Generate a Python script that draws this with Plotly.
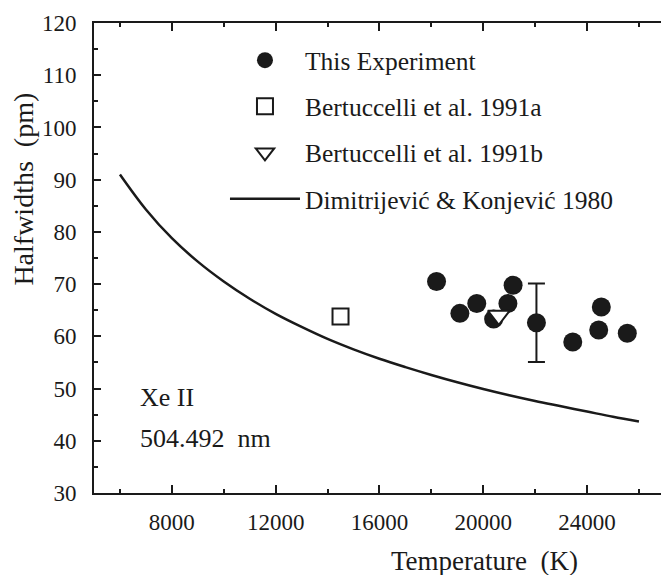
import plotly.graph_objects as go

# Measured Xe II 504.492 nm halfwidths (this experiment)
temp_exp = [18200, 19100, 19750, 20400, 20950, 21150, 22050, 23450, 24450, 24550, 25550]
hw_exp = [70.5, 64.4, 66.3, 63.3, 66.3, 69.8, 62.6, 58.9, 61.2, 65.6, 60.6]
hw_exp_err = [None, None, None, None, None, None, 7.5, None, None, None, None]

# Bertuccelli et al. 1991a / 1991b
temp_b91a = [14500]
hw_b91a = [63.8]
temp_b91b = [20600]
hw_b91b = [64.0]

# Dimitrijevic & Konjevic 1980 calculation
temp_theory = [6000, 7000, 8000, 9000, 10000, 11000, 12000, 13000, 14000, 15000, 16000,
               17000, 18000, 19000, 20000, 21000, 22000, 23000, 24000, 25000, 26000]
hw_theory = [91.0, 84.3, 78.8, 74.3, 70.5, 67.2, 64.3, 61.8, 59.5, 57.5, 55.7,
             54.1, 52.6, 51.2, 49.9, 48.7, 47.6, 46.6, 45.6, 44.6, 43.7]

x_ticks_major = 4000
x_ticks_minor = 2000
y_ticks_major = 10
y_ticks_minor = 5

FONT = "Liberation Serif"
INK = "#1a1a1a"

fig = go.Figure()

fig.add_trace(go.Scatter(
    x=temp_exp, y=hw_exp, mode="markers", name="This Experiment",
    legendgroup="exp",
    marker=dict(symbol="circle", size=19, color=INK, line=dict(width=0)),
    error_y=dict(type="data", array=hw_exp_err, visible=True, color=INK,
                 thickness=2, width=8.5),
))
fig.add_trace(go.Scatter(
    x=temp_b91a, y=hw_b91a, mode="markers", name="Bertuccelli et al. 1991a",
    legendgroup="b91a",
    marker=dict(symbol="square", size=16, color="white", line=dict(width=2, color=INK)),
))
fig.add_trace(go.Scatter(
    x=temp_b91b, y=hw_b91b, mode="markers", name="Bertuccelli et al. 1991b",
    legendgroup="b91b",
    marker=dict(symbol="triangle-down", size=19, color="white", line=dict(width=2, color=INK)),
))
fig.add_trace(go.Scatter(
    x=temp_theory, y=hw_theory, mode="lines", name="Dimitrijević & Konjević 1980",
    legendgroup="dk80",
    line=dict(color=INK, width=2.5, shape="spline"),
))

axis_common = dict(
    showgrid=False, zeroline=False, showline=True, linewidth=2, linecolor=INK,
    ticks="inside", tickwidth=2, tickcolor=INK,
    tickfont=dict(family=FONT, size=23, color=INK),
)

fig.update_layout(
    width=661, height=575,
    margin=dict(l=94, r=0, t=23, b=82),
    paper_bgcolor="white", plot_bgcolor="white",
    font=dict(family=FONT, size=23, color=INK),
    showlegend=True,
    legend=dict(
        x=0.231, y=0.97, xanchor="left", yanchor="top",
        bgcolor="rgba(0,0,0,0)", borderwidth=0,
        font=dict(family=FONT, size=25.5, color=INK),
        itemwidth=70, traceorder="grouped", tracegroupgap=10,
    ),
    xaxis=dict(
        range=[5000, 26850], tick0=0, dtick=x_ticks_major, ticklen=8,
        tickformat="d", mirror="ticks", ticklabelstandoff=7,
        minor=dict(tick0=0, dtick=x_ticks_minor, ticks="inside", ticklen=4,
                   tickwidth=2, tickcolor=INK, showgrid=False),
        **axis_common,
    ),
    yaxis=dict(
        range=[30, 120], tick0=0, dtick=y_ticks_major, ticklen=7,
        mirror=False, ticklabelstandoff=11,
        minor=dict(tick0=0, dtick=y_ticks_minor, ticks="inside", ticklen=4,
                   tickwidth=2, tickcolor=INK, showgrid=False),
        **axis_common,
    ),
    yaxis2=dict(
        overlaying="y", side="right", anchor="x", range=[30, 120],
        tick0=0, dtick=y_ticks_major, ticks="inside", ticklen=6, tickwidth=2,
        tickcolor=INK, showline=False, showgrid=False, zeroline=False,
        showticklabels=False,
        minor=dict(tick0=0, dtick=y_ticks_minor, ticks="inside", ticklen=3,
                   tickwidth=1, tickcolor="#bbbbbb", showgrid=False),
    ),
    annotations=[
        dict(text="Temperature\u00a0 (K)", xref="paper", yref="paper",
             x=0.688, y=-0.145, xanchor="center", yanchor="middle",
             showarrow=False, font=dict(family=FONT, size=27, color=INK)),
        dict(text="Halfwidths\u00a0 (pm)", xref="paper", yref="paper",
             x=-0.124, y=0.647, xanchor="center", yanchor="middle", textangle=-90,
             showarrow=False, font=dict(family=FONT, size=28, color=INK)),
        dict(text="Xe II", xref="x", yref="y", x=6700, y=48.2,
             xanchor="left", yanchor="middle", showarrow=False,
             font=dict(family=FONT, size=26, color=INK)),
        dict(text="504.492\u00a0 nm", xref="x", yref="y", x=6700, y=40.5,
             xanchor="left", yanchor="middle", showarrow=False,
             font=dict(family=FONT, size=26, color=INK)),
    ],
)

fig.write_html("out.html")
